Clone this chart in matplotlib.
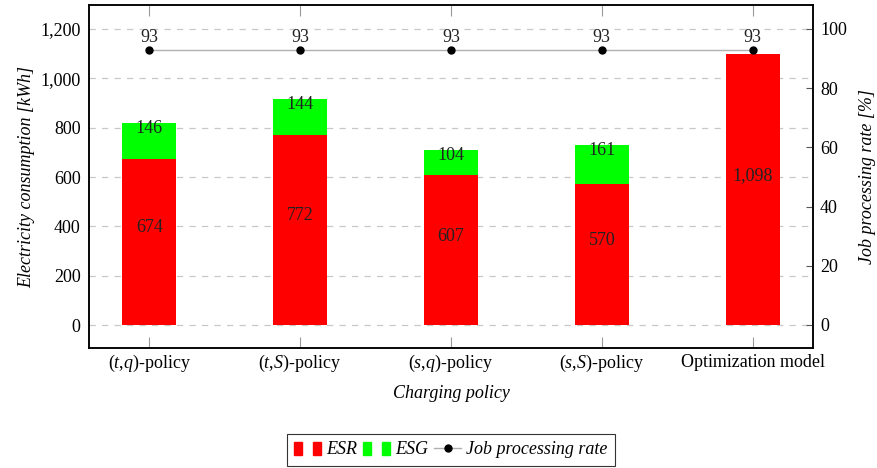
import matplotlib
matplotlib.use("Agg")
import matplotlib.pyplot as plt
import numpy as np
from matplotlib.patches import Rectangle
from matplotlib.lines import Line2D
from matplotlib.legend_handler import HandlerTuple

plt.rcParams["font.family"] = ["Liberation Serif", "DejaVu Serif"]
plt.rcParams["mathtext.fontset"] = "custom"
plt.rcParams["mathtext.rm"] = "Liberation Serif"
plt.rcParams["mathtext.it"] = "Liberation Serif:italic"
plt.rcParams["font.size"] = 13

policies = [r"$(t$,$q)$-policy", r"$(t$,$S)$-policy", r"$(s$,$q)$-policy",
            r"$(s$,$S)$-policy", "Optimization model"]
esr = [674, 772, 607, 570, 1098]
esg = [146, 144, 104, 161, 0]
job_rate = [93, 93, 93, 93, 93]

red = "#ff0000"
green = "#00ff00"

fig = plt.figure(figsize=(8.77, 4.68), dpi=100)
ax = fig.add_axes([89 / 877, 1 - 348 / 468, (813 - 89) / 877, (348 - 5) / 468])
ax2 = ax.twinx()

x = np.arange(len(policies))
w = 0.36

ax.bar(x, esr, width=w, color=red, zorder=2)
ax.bar(x, esg, width=w, bottom=esr, color=green, zorder=2)

for xi, r, g in zip(x, esr, esg):
    ax.annotate(f"{r:,}", (xi, r / 2), xytext=(0, 10), textcoords="offset points",
                ha="center", va="center", color="#222222", zorder=3)
    if g > 0:
        ax.annotate(f"{g:,}", (xi, r + g), xytext=(0, -4), textcoords="offset points",
                    ha="center", va="center", color="#222222", zorder=3)

ax2.plot(x, job_rate, color="#b0b0b0", linewidth=1, zorder=3)
ax2.plot(x, job_rate, linestyle="none", marker="o", markersize=5,
         color="black", zorder=4)
for xi, v in zip(x, job_rate):
    ax2.annotate(f"{v}", (xi, v), xytext=(0, 9), textcoords="offset points",
                 ha="center", va="center", color="#222222")

ax.set_xlim(-0.4, 4.4)
ax.set_ylim(-93.2, 1297.3)
ax2.set_ylim(-7.77, 108.1)

ax.set_yticks(np.arange(0, 1201, 200))
ax.set_yticklabels([f"{v:,}" for v in range(0, 1201, 200)])
ax2.set_yticks(np.arange(0, 101, 20))
ax.set_xticks(x)
ax.set_xticklabels(policies)
for lbl in ax.get_xticklabels():
    lbl.set_verticalalignment("baseline")

ax.yaxis.grid(True, linestyle=(0, (5, 5)), color="#c8c8c8", linewidth=0.9, zorder=0)
ax.set_axisbelow(True)

ax.tick_params(axis="x", direction="in", length=8, color="#9a9a9a",
               top=True, pad=14)
ax.tick_params(axis="y", direction="in", length=0, pad=6)
ax2.tick_params(axis="y", direction="in", length=5, color="#555555", pad=5)

for a in (ax, ax2):
    for s in a.spines.values():
        s.set_linewidth(1.1)
        s.set_color("black")

ax.set_xlabel("Charging policy", style="italic", labelpad=8)
ax.set_ylabel("Electricity consumption [kWh]", style="italic", labelpad=4)
ax2.set_ylabel("Job processing rate [%]", style="italic", labelpad=9)

h_esr = (Rectangle((0, 0), 1, 1, color=red), Rectangle((0, 0), 1, 1, color=red))
h_esg = (Rectangle((0, 0), 1, 1, color=green), Rectangle((0, 0), 1, 1, color=green))
h_job = Line2D([], [], color="#b0b0b0", linewidth=1, marker="o",
               markersize=5, markerfacecolor="black", markeredgecolor="black")
leg = fig.legend([h_esr, h_esg, h_job], ["ESR", "ESG", "Job processing rate"],
                 handler_map={tuple: HandlerTuple(ndivide=None, pad=0.6)},
                 loc="center", bbox_to_anchor=(451 / 877, 1 - 450 / 468),
                 ncol=3, frameon=True, fancybox=False, edgecolor="black",
                 handlelength=1.5, handletextpad=0.3, columnspacing=0.3,
                 borderpad=0.4, prop={"style": "italic", "size": 13})
leg.get_frame().set_linewidth(0.8)

fig.savefig("out.png", dpi=100)
